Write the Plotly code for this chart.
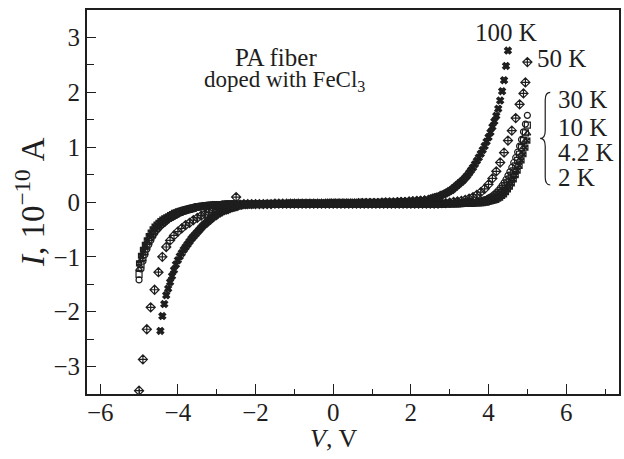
import plotly.graph_objects as go

# Bias voltage grid (V): dense in the two wings, coarser on the plateau
volts_neg = [-5.0, -4.95, -4.9, -4.85, -4.8, -4.75, -4.7, -4.65, -4.6, -4.55,
             -4.5, -4.45, -4.4, -4.35, -4.3, -4.25, -4.2, -4.15, -4.1, -4.05,
             -4.0, -3.95, -3.9, -3.85, -3.8, -3.75, -3.7, -3.65, -3.6, -3.55,
             -3.5, -3.45, -3.4, -3.35, -3.3, -3.25, -3.2, -3.15, -3.1, -3.05,
             -3.0, -2.95, -2.9, -2.85, -2.8, -2.75, -2.7, -2.65, -2.6, -2.55, -2.5]
volts_mid = [-2.4, -2.3, -2.2, -2.1, -2.0, -1.9, -1.8, -1.7, -1.6, -1.5,
             -1.4, -1.3, -1.2, -1.1, -1.0, -0.9, -0.8, -0.7, -0.6, -0.5,
             -0.4, -0.3, -0.2, -0.1, 0.0, 0.1, 0.2, 0.3, 0.4, 0.5,
             0.6, 0.7, 0.8, 0.9, 1.0, 1.1, 1.2, 1.3, 1.4, 1.5,
             1.6, 1.7, 1.8, 1.9, 2.0, 2.1, 2.2, 2.3, 2.4]
volts_pos = [2.5, 2.55, 2.6, 2.65, 2.7, 2.75, 2.8, 2.85, 2.9, 2.95,
             3.0, 3.05, 3.1, 3.15, 3.2, 3.25, 3.3, 3.35, 3.4, 3.45,
             3.5, 3.55, 3.6, 3.65, 3.7, 3.75, 3.8, 3.85, 3.9, 3.95,
             4.0, 4.05, 4.1, 4.15, 4.2, 4.25, 4.3, 4.35, 4.4, 4.45,
             4.5, 4.55, 4.6, 4.65, 4.7, 4.75, 4.8, 4.85, 4.9, 4.95, 5.0]
volts = volts_neg + volts_mid + volts_pos

# Current, units of 1e-10 A (None = no point recorded at that bias)
i_100k = ([None, None, None, None, None, None, None, None, None, None,
           None, -2.35, -2.08, -1.86, -1.70, -1.58, -1.46, -1.35, -1.24, -1.14,
           -1.06, -0.99, -0.93, -0.87, -0.82, -0.77, -0.72, -0.67, -0.63, -0.59,
           -0.55, -0.51, -0.47, -0.43, -0.40, -0.37, -0.34, -0.31, -0.28, -0.26,
           -0.23, -0.21, -0.19, -0.17, -0.16, -0.15, -0.13, -0.12, -0.11, -0.10, -0.09]
          + [-0.07, -0.06, -0.05, -0.05, -0.04, -0.04, -0.04, -0.03, -0.03, -0.03,
             -0.03, -0.03, -0.03, -0.02, -0.02, -0.02, -0.02, -0.02, -0.02, -0.02,
             -0.02, -0.02, -0.02, -0.01, -0.01, -0.01, -0.01, -0.01, -0.01, -0.01,
             -0.01, 0.0, 0.0, 0.0, 0.0, 0.0, 0.0, 0.01, 0.01, 0.01,
             0.01, 0.02, 0.02, 0.02, 0.03, 0.03, 0.04, 0.04, 0.05]
          + [0.06, 0.07, 0.08, 0.09, 0.10, 0.11, 0.13, 0.14, 0.16, 0.18,
             0.20, 0.22, 0.25, 0.28, 0.31, 0.34, 0.37, 0.40, 0.44, 0.48,
             0.53, 0.58, 0.63, 0.69, 0.75, 0.81, 0.88, 0.95, 1.02, 1.10,
             1.18, 1.27, 1.37, 1.47, 1.57, 1.70, 1.85, 2.02, 2.22, 2.48,
             2.76, None, None, None, None, None, None, None, None, None, None])

i_50k = ([-3.44, None, -2.87, None, -2.32, None, -1.92, None, -1.60, None,
          -1.28, None, -1.00, None, -0.82, None, -0.70, None, -0.61, None,
          -0.54, None, -0.48, None, -0.42, None, -0.38, None, -0.33, None,
          -0.29, None, -0.25, None, -0.22, None, -0.19, None, -0.16, None,
          -0.14, None, -0.12, None, -0.10, None, -0.08, None, -0.06, None, 0.09]
         + [-0.05, -0.04, -0.04, -0.04, -0.04, -0.04, -0.04, -0.04, -0.04, -0.03,
            -0.03, -0.03, -0.03, -0.03, -0.03, -0.03, -0.03, -0.03, -0.03, -0.03,
            -0.03, -0.03, -0.03, -0.03, -0.03, -0.03, -0.03, -0.03, -0.03, -0.03,
            -0.03, -0.03, -0.03, -0.03, -0.03, -0.03, -0.03, -0.03, -0.03, -0.03,
            -0.03, -0.03, -0.03, -0.03, -0.03, -0.03, -0.03, -0.03, -0.03]
         + [-0.03, None, -0.03, None, -0.03, None, -0.02, None, -0.02, None,
            -0.01, None, 0.0, None, 0.01, None, 0.02, None, 0.04, None,
            0.06, None, 0.09, None, 0.13, None, 0.18, None, 0.24, None,
            0.32, None, 0.43, None, 0.56, None, 0.72, None, 0.90, None,
            1.12, None, 1.30, None, 1.53, None, 1.78, None, 1.98, 2.18, 2.55])

i_30k = ([-1.42, -1.22, -1.08, -0.96, -0.86, -0.78, -0.70, -0.63, -0.57, -0.52,
          -0.48, -0.44, -0.41, -0.38, -0.35, -0.32, -0.30, -0.28, -0.26, -0.24,
          -0.22, -0.20, -0.19, -0.17, -0.16, -0.15, -0.14, -0.13, -0.12, -0.11,
          -0.10, -0.09, -0.09, -0.08, -0.08, -0.07, -0.07, -0.06, -0.06, -0.06,
          -0.05, -0.05, -0.05, -0.05, -0.05, -0.04, -0.04, -0.04, -0.04, -0.04, -0.04]
         + [-0.04, -0.04, -0.04, -0.04, -0.04, -0.04, -0.04, -0.04, -0.04, -0.04,
            -0.04, -0.04, -0.04, -0.04, -0.04, -0.04, -0.04, -0.04, -0.04, -0.04,
            -0.04, -0.04, -0.04, -0.04, -0.04, -0.04, -0.04, -0.04, -0.04, -0.04,
            -0.04, -0.04, -0.04, -0.04, -0.04, -0.04, -0.04, -0.04, -0.04, -0.04,
            -0.04, -0.04, -0.04, -0.04, -0.04, -0.03, -0.03, -0.03, -0.03]
         + [-0.03, -0.03, -0.03, -0.03, -0.03, -0.03, -0.03, -0.03, -0.03, -0.03,
            -0.03, -0.03, -0.02, -0.02, -0.02, -0.02, -0.02, -0.02, -0.02, -0.01,
            -0.01, -0.01, -0.01, -0.01, 0.0, 0.01, 0.02, 0.03, 0.04, 0.05,
            0.07, 0.09, 0.11, 0.14, 0.17, 0.21, 0.25, 0.30, 0.35, 0.41,
            0.48, 0.55, 0.63, 0.72, 0.81, 0.91, 1.02, 1.14, 1.28, 1.42, 1.58])

i_10k = ([-1.32, -1.14, -1.01, -0.90, -0.80, -0.72, -0.65, -0.59, -0.53, -0.48,
          -0.44, -0.41, -0.38, -0.35, -0.32, -0.30, -0.28, -0.26, -0.24, -0.22,
          -0.20, -0.19, -0.17, -0.16, -0.15, -0.14, -0.13, -0.12, -0.11, -0.10,
          -0.09, -0.09, -0.08, -0.08, -0.07, -0.07, -0.06, -0.06, -0.06, -0.05,
          -0.05, -0.05, -0.05, -0.05, -0.04, -0.04, -0.04, -0.04, -0.04, -0.04, -0.04]
         + [-0.04, -0.04, -0.04, -0.04, -0.04, -0.04, -0.04, -0.04, -0.04, -0.04,
            -0.04, -0.04, -0.04, -0.04, -0.04, -0.04, -0.04, -0.04, -0.04, -0.04,
            -0.04, -0.04, -0.04, -0.04, -0.04, -0.04, -0.04, -0.04, -0.04, -0.04,
            -0.04, -0.04, -0.04, -0.04, -0.04, -0.04, -0.04, -0.04, -0.04, -0.04,
            -0.04, -0.04, -0.04, -0.04, -0.04, -0.04, -0.04, -0.04, -0.04]
         + [-0.04, -0.04, -0.04, -0.04, -0.04, -0.03, -0.03, -0.03, -0.03, -0.03,
            -0.03, -0.03, -0.03, -0.03, -0.03, -0.02, -0.02, -0.02, -0.02, -0.02,
            -0.02, -0.02, -0.01, -0.01, -0.01, -0.01, 0.0, 0.01, 0.02, 0.03,
            0.04, 0.05, 0.07, 0.09, 0.11, 0.14, 0.17, 0.21, 0.25, 0.30,
            0.36, 0.42, 0.49, 0.57, 0.66, 0.76, 0.87, 0.99, 1.12, 1.26, 1.40])

i_4k2 = ([-1.22, -1.06, -0.94, -0.84, -0.75, -0.67, -0.60, -0.54, -0.49, -0.45,
          -0.41, -0.38, -0.35, -0.32, -0.30, -0.28, -0.26, -0.24, -0.22, -0.20,
          -0.19, -0.17, -0.16, -0.15, -0.14, -0.13, -0.12, -0.11, -0.10, -0.10,
          -0.09, -0.08, -0.08, -0.07, -0.07, -0.06, -0.06, -0.06, -0.05, -0.05,
          -0.05, -0.05, -0.05, -0.04, -0.04, -0.04, -0.04, -0.04, -0.04, -0.04, -0.04]
         + [-0.04, -0.04, -0.04, -0.04, -0.04, -0.04, -0.04, -0.04, -0.04, -0.04,
            -0.05, -0.05, -0.05, -0.05, -0.05, -0.05, -0.05, -0.05, -0.05, -0.05,
            -0.05, -0.05, -0.05, -0.05, -0.05, -0.05, -0.05, -0.05, -0.05, -0.05,
            -0.05, -0.05, -0.05, -0.05, -0.05, -0.05, -0.05, -0.05, -0.05, -0.05,
            -0.04, -0.04, -0.04, -0.04, -0.04, -0.04, -0.04, -0.04, -0.04]
         + [-0.04, -0.04, -0.04, -0.04, -0.04, -0.04, -0.04, -0.04, -0.04, -0.03,
            -0.03, -0.03, -0.03, -0.03, -0.03, -0.03, -0.03, -0.03, -0.02, -0.02,
            -0.02, -0.02, -0.02, -0.02, -0.01, -0.01, -0.01, -0.01, 0.0, 0.01,
            0.02, 0.03, 0.04, 0.06, 0.08, 0.10, 0.13, 0.16, 0.20, 0.24,
            0.29, 0.35, 0.42, 0.49, 0.58, 0.67, 0.77, 0.88, 1.00, 1.12, 1.25])

i_2k = ([-1.12, -0.98, -0.87, -0.78, -0.70, -0.62, -0.56, -0.50, -0.45, -0.41,
         -0.38, -0.35, -0.32, -0.30, -0.28, -0.26, -0.24, -0.22, -0.20, -0.19,
         -0.17, -0.16, -0.15, -0.14, -0.13, -0.12, -0.11, -0.10, -0.10, -0.09,
         -0.08, -0.08, -0.07, -0.07, -0.06, -0.06, -0.06, -0.05, -0.05, -0.05,
         -0.05, -0.05, -0.05, -0.05, -0.05, -0.05, -0.05, -0.05, -0.05, -0.05, -0.05]
        + [-0.05, -0.05, -0.05, -0.05, -0.05, -0.05, -0.05, -0.05, -0.05, -0.05,
           -0.05, -0.05, -0.05, -0.05, -0.05, -0.05, -0.05, -0.05, -0.05, -0.05,
           -0.05, -0.05, -0.05, -0.05, -0.05, -0.05, -0.05, -0.05, -0.05, -0.05,
           -0.05, -0.05, -0.05, -0.05, -0.05, -0.05, -0.05, -0.05, -0.05, -0.05,
           -0.05, -0.05, -0.05, -0.05, -0.05, -0.05, -0.05, -0.05, -0.05]
        + [-0.05, -0.05, -0.05, -0.05, -0.05, -0.05, -0.05, -0.05, -0.04, -0.04,
           -0.04, -0.04, -0.04, -0.04, -0.04, -0.04, -0.04, -0.03, -0.03, -0.03,
           -0.03, -0.03, -0.03, -0.02, -0.02, -0.02, -0.02, -0.02, -0.01, -0.01,
           0.0, 0.01, 0.02, 0.03, 0.04, 0.06, 0.08, 0.11, 0.14, 0.18,
           0.23, 0.28, 0.34, 0.41, 0.49, 0.57, 0.66, 0.76, 0.87, 0.99, 1.12])

series = [
    ("100 K", i_100k, "x", 6),
    ("50 K", i_50k, "diamond-cross-open", 7),
    ("30 K", i_30k, "circle-open", 6),
    ("10 K", i_10k, "square-open", 6),
    ("4.2 K", i_4k2, "triangle-up-open", 6),
    ("2 K", i_2k, "square-x-open", 5),
]
for _, cur, _, _ in series:
    assert len(cur) == len(volts)

INK = "#1e1e1e"
SERIF = "Liberation Serif"

fig = go.Figure()
for name, cur, sym, size in series:
    fig.add_trace(go.Scatter(
        x=volts, y=cur, mode="markers", name=name,
        marker=dict(symbol=sym, size=size, color=INK,
                    line=dict(color=INK, width=1.2)),
        showlegend=False,
    ))

# temperature labels beside the curve ends
temp_labels = [("100 K", 4.44, 3.09, "center"), ("50 K", 5.2, 2.62, "left"),
               ("30 K", 5.74, 1.87, "left"), ("10 K", 5.74, 1.36, "left"),
               ("4.2 K", 5.74, 0.91, "left"), ("2 K", 5.74, 0.44, "left")]
annotations = []
for txt, vx, vy, anc in temp_labels:
    annotations.append(dict(x=vx, y=vy, xref="x", yref="y", text=txt,
                            showarrow=False, xanchor=anc, yanchor="middle",
                            font=dict(family=SERIF, size=25, color=INK)))

annotations += [
    dict(x=-1.48, y=2.64, xref="x", yref="y", text="PA fiber", showarrow=False,
         xanchor="center", yanchor="middle", font=dict(family=SERIF, size=25, color=INK)),
    dict(x=-1.26, y=2.2, xref="x", yref="y", text="doped with FeCl<sub>3</sub>",
         showarrow=False, xanchor="center", yanchor="middle",
         font=dict(family=SERIF, size=23, color=INK)),
    dict(x=0.4625, y=-0.115, xref="paper", yref="paper", text="<i>V</i>, V",
         showarrow=False, xanchor="center", yanchor="middle",
         font=dict(family=SERIF, size=26, color=INK)),
    dict(x=-0.107, y=0.5, xref="paper", yref="paper",
         text="<i>I</i>,&nbsp;10<sup>\u221210</sup>&nbsp;A", textangle=-90,
         showarrow=False, xanchor="center", yanchor="middle",
         font=dict(family=SERIF, size=33, color=INK)),
]

# curly brace grouping the low-temperature labels
brace = ("M 5.59,2.0 Q 5.46,2.0 5.46,1.86 L 5.46,1.30 Q 5.46,1.16 5.33,1.16 "
         "Q 5.46,1.16 5.46,1.02 L 5.46,0.45 Q 5.46,0.31 5.59,0.31")

fig.update_layout(
    width=624, height=459,
    margin=dict(l=87, r=3, t=10, b=65),
    paper_bgcolor="white", plot_bgcolor="white",
    font=dict(family=SERIF, size=24, color=INK),
    annotations=annotations,
    shapes=[dict(type="path", path=brace, xref="x", yref="y",
                 line=dict(color=INK, width=1.2))],
    xaxis=dict(range=[-6.34, 7.36], tick0=0, dtick=2, ticks="inside", ticklen=10,
               tickwidth=1.2, tickcolor=INK, showline=True, linewidth=1.8,
               linecolor=INK, mirror=True, showgrid=False, zeroline=False,
               ticklabelstandoff=-5,
               minor=dict(dtick=1, ticks="inside", ticklen=5, tickwidth=1.2,
                          tickcolor=INK, showgrid=False),
               tickfont=dict(family=SERIF, size=25, color=INK)),
    yaxis=dict(range=[-3.5, 3.5], tick0=0, dtick=1, ticks="inside", ticklen=9,
               tickwidth=1.2, tickcolor=INK, showline=True, linewidth=1.8,
               linecolor=INK, mirror=True, showgrid=False, zeroline=False,
               minor=dict(dtick=0.5, ticks="inside", ticklen=7, tickwidth=1.2,
                          tickcolor=INK, showgrid=False),
               tickfont=dict(family=SERIF, size=25, color=INK)),
)

fig.write_html("out.html")
